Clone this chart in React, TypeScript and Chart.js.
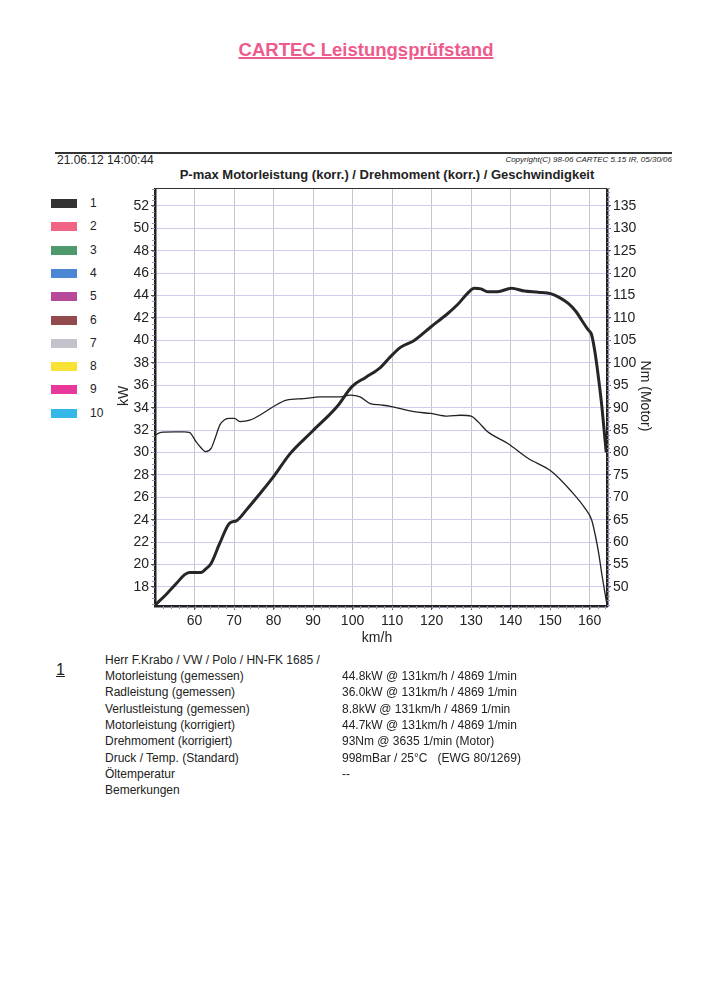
import React, { useEffect, useRef } from "react";
import { Chart, registerables } from "chart.js";

Chart.register(...registerables);

// ---- data ----
const powerSpeed = [50.1, 53, 55.5, 57.5, 58.7, 60, 61.7, 62.8, 64.2, 66.4, 68.9, 70.6, 73.2, 76.5, 79.9, 84.2, 89.7, 96.1, 99.9, 103.3, 107.1, 109.6, 112.2, 115.6, 119.8, 124.1, 126.6, 129.1, 130.8, 132.5, 134.2, 136.7, 140.2, 143.5, 147, 150.3, 152.5, 154.6, 156.5, 158, 159.5, 160.5, 161.4, 162.3, 163.1, 164.2];
const powerKW = [16.4, 17.4, 18.35, 19.1, 19.3, 19.3, 19.3, 19.6, 20.1, 21.9, 23.7, 23.9, 24.9, 26.3, 27.8, 29.9, 31.85, 34.1, 35.9, 36.7, 37.6, 38.55, 39.4, 40.0, 41.2, 42.4, 43.2, 44.2, 44.65, 44.6, 44.35, 44.35, 44.65, 44.4, 44.3, 44.15, 43.8, 43.3, 42.6, 41.8, 41.0, 40.5, 38.85, 36.5, 34.1, 30.0];

const torqueSpeed = [50.1, 51.5, 55, 57.5, 58.7, 60.4, 61.7, 62.8, 64.2, 65.3, 66.4, 67.6, 68.9, 70.1, 71.5, 74.0, 76.5, 79.9, 83.3, 87.6, 91.8, 96.9, 99.4, 101.9, 104.5, 107.1, 109.6, 115.5, 119.8, 124.0, 127.4, 130, 131.7, 134.2, 139.3, 144.4, 150.3, 155.4, 158.8, 160.5, 161.4, 162.3, 163.1, 164.3];
const torqueNm = [83.9, 84.5, 84.6, 84.6, 84.5, 82.4, 81.0, 80.2, 80.9, 83.4, 86.1, 87.3, 87.6, 87.6, 86.9, 87.2, 88.3, 90.2, 91.7, 92.0, 92.4, 92.4, 92.8, 92.4, 90.9, 90.6, 90.3, 89.1, 88.7, 88.1, 88.3, 88.1, 86.9, 84.6, 82.0, 78.7, 75.8, 71.3, 67.6, 65.0, 61.7, 57.5, 52.8, 46.5];

const legendLabels = ["1", "2", "3", "4", "5", "6", "7", "8", "9", "10"];
const legendColors = ["#333333", "#f06484", "#4f9a6c", "#4a88d6", "#b8489a", "#924a4e", "#c2c2cc", "#f8e234", "#e8389a", "#34b8ea"];

const infoLabels = [
  "Motorleistung (gemessen)",
  "Radleistung (gemessen)",
  "Verlustleistung (gemessen)",
  "Motorleistung (korrigiert)",
  "Drehmoment (korrigiert)",
  "Druck / Temp. (Standard)",
  "Öltemperatur",
  "Bemerkungen",
];
const infoValues = [
  "44.8kW @ 131km/h / 4869 1/min",
  "36.0kW @ 131km/h / 4869 1/min",
  "8.8kW @ 131km/h / 4869 1/min",
  "44.7kW @ 131km/h / 4869 1/min",
  "93Nm @ 3635 1/min (Motor)",
  "998mBar / 25°C   (EWG 80/1269)",
  "--",
  "",
];

const FONT = "'Liberation Sans', Arial, sans-serif";

const frameTop = {
  id: "frameTop",
  afterDraw(chart: any) {
    const { ctx, chartArea, scales } = chart;
    ctx.save();
    ctx.strokeStyle = "#333";
    ctx.lineWidth = 1;
    ctx.beginPath();
    ctx.moveTo(chartArea.left, chartArea.top + 0.5);
    ctx.lineTo(chartArea.right, chartArea.top + 0.5);
    ctx.stroke();
    ctx.strokeStyle = "#8c92c4";
    ctx.lineWidth = 1;
    const y = scales.y;
    for (let v = 16.5; v <= 53.5; v += 0.5) {
      const p = Math.round(y.getPixelForValue(v)) + 0.5;
      ctx.beginPath();
      ctx.moveTo(chartArea.left - 3, p);
      ctx.lineTo(chartArea.left, p);
      ctx.stroke();
    }
    const y1 = scales.y1;
    for (let v = 46; v <= 139; v += 1) {
      const p = Math.round(y1.getPixelForValue(v)) + 0.5;
      ctx.beginPath();
      ctx.moveTo(chartArea.right, p);
      ctx.lineTo(chartArea.right + 3, p);
      ctx.stroke();
    }
    const x = scales.x;
    for (let v = 52; v <= 164; v += 2) {
      const p = Math.round(x.getPixelForValue(v)) + 0.5;
      ctx.beginPath();
      ctx.moveTo(p, chartArea.bottom);
      ctx.lineTo(p, chartArea.bottom + 3);
      ctx.stroke();
    }
    ctx.restore();
  },
};

function DynoChart() {
  const ref = useRef<HTMLCanvasElement | null>(null);
  useEffect(() => {
    if (!ref.current) return;
    const chart = new Chart(ref.current, {
      type: "line",
      data: {
        datasets: [
          {
            label: "Motorleistung",
            data: powerSpeed.map((s, i) => ({ x: s, y: powerKW[i] })),
            yAxisID: "y",
            borderColor: "#262626",
            borderWidth: 3,
            pointRadius: 0,
            cubicInterpolationMode: "monotone",
          },
          {
            label: "Drehmoment",
            data: torqueSpeed.map((s, i) => ({ x: s, y: torqueNm[i] })),
            yAxisID: "y1",
            borderColor: "#222",
            borderWidth: 1.3,
            pointRadius: 0,
            cubicInterpolationMode: "monotone",
          },
        ],
      },
      options: {
        responsive: false,
        animation: false,
        devicePixelRatio: 1,
        layout: { padding: 0 },
        plugins: { legend: { display: false }, tooltip: { enabled: false } },
        scales: {
          x: {
            type: "linear",
            min: 50,
            max: 164.4,
            afterBuildTicks(scale: any) {
              scale.ticks = scale.ticks.filter((t: any) => t.value >= 55);
            },
            ticks: {
              stepSize: 10,
              includeBounds: false,
              color: "#222",
              font: { family: FONT, size: 14 },
              padding: 3,
              maxRotation: 0,
            },
            grid: { color: "#c6c6d0", lineWidth: 1, tickLength: 4, tickColor: "#555" },
            border: { color: "#222", width: 2.5 },
            afterFit(scale: any) {
              scale.height = 39;
              scale.paddingLeft = 0;
              scale.paddingRight = 0;
            },
          },
          y: {
            type: "linear",
            position: "left",
            min: 16.3,
            max: 53.6,
            ticks: {
              stepSize: 2,
              includeBounds: false,
              color: "#222",
              font: { family: FONT, size: 14 },
              padding: 2,
            },
            grid: { color: "#d2c9ee", lineWidth: 1, tickLength: 4, tickColor: "#555" },
            border: { color: "#222", width: 2.5 },
            afterFit(scale: any) {
              scale.width = 55;
              scale.paddingTop = 0;
              scale.paddingBottom = 0;
            },
          },
          y1: {
            type: "linear",
            position: "right",
            min: 45.75,
            max: 139,
            ticks: {
              stepSize: 5,
              includeBounds: false,
              color: "#222",
              font: { family: FONT, size: 14 },
              padding: 2,
            },
            grid: { drawOnChartArea: false, tickLength: 4, tickColor: "#555" },
            border: { color: "#222", width: 2.5 },
            afterFit(scale: any) {
              scale.width = 73;
              scale.paddingTop = 0;
              scale.paddingBottom = 0;
            },
          },
        },
      },
      plugins: [frameTop],
    } as any);
    return () => chart.destroy();
  }, []);
  return (
    <canvas
      ref={ref}
      width={580}
      height={457}
      style={{ position: "absolute", left: 100, top: 188, width: 580, height: 457 }}
    />
  );
}

export default function App() {
  const abs = (l: number, t: number, extra: any = {}) => ({
    position: "absolute" as const,
    left: l,
    top: t,
    fontFamily: FONT,
    color: "#222",
    whiteSpace: "nowrap" as const,
    ...extra,
  });
  return (
    <div style={{ position: "absolute", left: 0, top: 0, width: 720, height: 990, background: "#fff", overflow: "hidden" }}>
      <div
        style={abs(0, 39, {
          width: 732,
          textAlign: "center",
          fontSize: 18.5,
          fontWeight: "bold",
          color: "#ee5a8c",
          textDecoration: "underline",
          textDecorationThickness: 2,
        })}
      >
        CARTEC Leistungsprüfstand
      </div>
      <div style={{ position: "absolute", left: 55, top: 152, width: 617, height: 2, background: "#333" }} />
      <div style={abs(57, 153, { fontSize: 12 })}>21.06.12 14:00:44</div>
      <div style={abs(372, 155, { width: 300, textAlign: "right", fontSize: 8, fontStyle: "italic" })}>
        Copyright(C) 98-06 CARTEC 5.15 IR, 05/30/06
      </div>
      <div style={abs(87, 167, { width: 600, textAlign: "center", fontSize: 13, fontWeight: "bold" })}>
        P-max Motorleistung (korr.) / Drehmoment (korr.) / Geschwindigkeit
      </div>

      {legendLabels.map((l, i) => (
        <React.Fragment key={l}>
          <div
            style={{
              position: "absolute",
              left: 51,
              top: 199 + i * 23.3,
              width: 26,
              height: 9,
              background: legendColors[i],
            }}
          />
          <div style={abs(90, 196 + i * 23.3, { fontSize: 12 })}>{l}</div>
        </React.Fragment>
      ))}

      <DynoChart />

      <div style={abs(108, 388, { fontSize: 14, transform: "rotate(-90deg)", width: 30, textAlign: "center" })}>kW</div>
      <div style={abs(604, 388, { fontSize: 14, transform: "rotate(90deg)", width: 84, textAlign: "center" })}>
        Nm (Motor)
      </div>
      <div style={abs(347, 629, { fontSize: 14, width: 60, textAlign: "center" })}>km/h</div>

      <div style={abs(56, 661, { fontSize: 16, textDecoration: "underline" })}>1</div>
      <div style={abs(105, 653, { fontSize: 12 })}>Herr F.Krabo / VW / Polo / HN-FK 1685 /</div>
      {infoLabels.map((t, i) => (
        <div key={t} style={abs(105, 669 + i * 16.35, { fontSize: 12 })}>
          {t}
        </div>
      ))}
      {infoValues.map((t, i) => (
        <div key={"v" + i} style={abs(342, 669 + i * 16.35, { fontSize: 12, whiteSpace: "pre" })}>
          {t}
        </div>
      ))}
    </div>
  );
}
